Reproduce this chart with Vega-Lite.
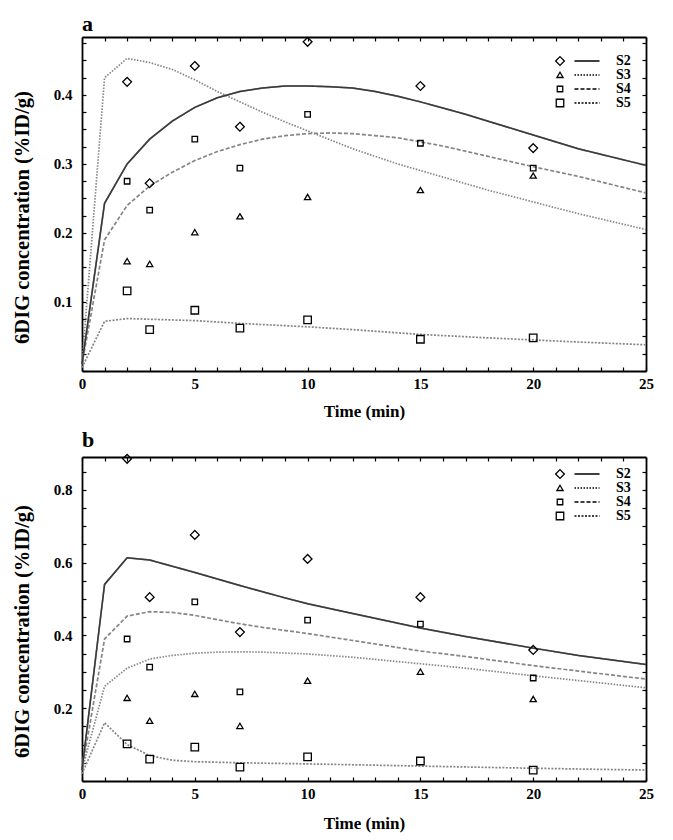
{
  "$schema": "https://vega.github.io/schema/vega-lite/v6.json",
  "padding": {"left": 12, "top": 12, "right": 20, "bottom": 5},
  "config": {
    "font": "Liberation Serif",
    "view": {"stroke": null},
    "concat": {"spacing": 9},
    "axis": {"tickSize": -4, "tickColor": "black", "tickWidth": 1.2, "domainColor": "black", "domainWidth": 1.8, "grid": false,
      "labelFont": "Liberation Serif", "labelFontWeight": "bold", "labelFontSize": 15, "labelColor": "black", "labelFlush": false, "labelOverlap": false,
      "titleFont": "Liberation Serif", "titleFontWeight": "bold", "titleColor": "black"}
  },
  "resolve": {"scale": {"shape": "independent", "strokeDash": "independent"}, "legend": {"shape": "independent", "strokeDash": "independent"}},
  "datasets": {
    "pa": [
      {"t": 2, "v": 0.419, "S": "S2"}, {"t": 3, "v": 0.272, "S": "S2"}, {"t": 5, "v": 0.442, "S": "S2"}, {"t": 7, "v": 0.354, "S": "S2"}, {"t": 10, "v": 0.477, "S": "S2"}, {"t": 15, "v": 0.413, "S": "S2"}, {"t": 20, "v": 0.323, "S": "S2"},
      {"t": 2, "v": 0.159, "S": "S3"}, {"t": 3, "v": 0.155, "S": "S3"}, {"t": 5, "v": 0.201, "S": "S3"}, {"t": 7, "v": 0.224, "S": "S3"}, {"t": 10, "v": 0.252, "S": "S3"}, {"t": 15, "v": 0.262, "S": "S3"}, {"t": 20, "v": 0.283, "S": "S3"},
      {"t": 2, "v": 0.275, "S": "S4"}, {"t": 3, "v": 0.233, "S": "S4"}, {"t": 5, "v": 0.336, "S": "S4"}, {"t": 7, "v": 0.294, "S": "S4"}, {"t": 10, "v": 0.372, "S": "S4"}, {"t": 15, "v": 0.330, "S": "S4"}, {"t": 20, "v": 0.294, "S": "S4"},
      {"t": 2, "v": 0.116, "S": "S5"}, {"t": 3, "v": 0.060, "S": "S5"}, {"t": 5, "v": 0.088, "S": "S5"}, {"t": 7, "v": 0.062, "S": "S5"}, {"t": 10, "v": 0.074, "S": "S5"}, {"t": 15, "v": 0.046, "S": "S5"}, {"t": 20, "v": 0.048, "S": "S5"}
    ],
    "ca": [
      {"t": 0, "v": 0.01, "F": "S2"}, {"t": 1, "v": 0.243, "F": "S2"}, {"t": 2, "v": 0.30, "F": "S2"}, {"t": 3, "v": 0.336, "F": "S2"}, {"t": 4, "v": 0.362, "F": "S2"}, {"t": 5, "v": 0.382, "F": "S2"}, {"t": 6, "v": 0.396, "F": "S2"}, {"t": 7, "v": 0.405, "F": "S2"}, {"t": 8, "v": 0.41, "F": "S2"}, {"t": 9, "v": 0.413, "F": "S2"}, {"t": 10, "v": 0.413, "F": "S2"}, {"t": 11, "v": 0.412, "F": "S2"}, {"t": 12, "v": 0.41, "F": "S2"}, {"t": 13, "v": 0.405, "F": "S2"}, {"t": 14, "v": 0.398, "F": "S2"}, {"t": 15, "v": 0.39, "F": "S2"}, {"t": 16, "v": 0.381, "F": "S2"}, {"t": 17, "v": 0.372, "F": "S2"}, {"t": 18, "v": 0.362, "F": "S2"}, {"t": 20, "v": 0.342, "F": "S2"}, {"t": 22, "v": 0.322, "F": "S2"}, {"t": 25, "v": 0.298, "F": "S2"},
      {"t": 0, "v": 0.01, "F": "S3"}, {"t": 1, "v": 0.425, "F": "S3"}, {"t": 2, "v": 0.453, "F": "S3"}, {"t": 3, "v": 0.447, "F": "S3"}, {"t": 4, "v": 0.437, "F": "S3"}, {"t": 5, "v": 0.422, "F": "S3"}, {"t": 6, "v": 0.405, "F": "S3"}, {"t": 7, "v": 0.39, "F": "S3"}, {"t": 8, "v": 0.375, "F": "S3"}, {"t": 9, "v": 0.361, "F": "S3"}, {"t": 10, "v": 0.348, "F": "S3"}, {"t": 12, "v": 0.322, "F": "S3"}, {"t": 14, "v": 0.30, "F": "S3"}, {"t": 16, "v": 0.281, "F": "S3"}, {"t": 18, "v": 0.262, "F": "S3"}, {"t": 20, "v": 0.245, "F": "S3"}, {"t": 22, "v": 0.228, "F": "S3"}, {"t": 25, "v": 0.205, "F": "S3"},
      {"t": 0, "v": 0.01, "F": "S4"}, {"t": 1, "v": 0.19, "F": "S4"}, {"t": 2, "v": 0.24, "F": "S4"}, {"t": 3, "v": 0.268, "F": "S4"}, {"t": 4, "v": 0.288, "F": "S4"}, {"t": 5, "v": 0.305, "F": "S4"}, {"t": 6, "v": 0.318, "F": "S4"}, {"t": 7, "v": 0.328, "F": "S4"}, {"t": 8, "v": 0.336, "F": "S4"}, {"t": 9, "v": 0.341, "F": "S4"}, {"t": 10, "v": 0.344, "F": "S4"}, {"t": 11, "v": 0.345, "F": "S4"}, {"t": 12, "v": 0.344, "F": "S4"}, {"t": 14, "v": 0.338, "F": "S4"}, {"t": 16, "v": 0.326, "F": "S4"}, {"t": 18, "v": 0.311, "F": "S4"}, {"t": 20, "v": 0.296, "F": "S4"}, {"t": 22, "v": 0.282, "F": "S4"}, {"t": 25, "v": 0.258, "F": "S4"},
      {"t": 0, "v": 0.005, "F": "S5"}, {"t": 1, "v": 0.072, "F": "S5"}, {"t": 2, "v": 0.076, "F": "S5"}, {"t": 3, "v": 0.075, "F": "S5"}, {"t": 5, "v": 0.073, "F": "S5"}, {"t": 7, "v": 0.069, "F": "S5"}, {"t": 10, "v": 0.064, "F": "S5"}, {"t": 12, "v": 0.06, "F": "S5"}, {"t": 15, "v": 0.053, "F": "S5"}, {"t": 18, "v": 0.048, "F": "S5"}, {"t": 20, "v": 0.045, "F": "S5"}, {"t": 22, "v": 0.042, "F": "S5"}, {"t": 25, "v": 0.038, "F": "S5"}
    ],
    "pb": [
      {"t": 2, "v": 0.885, "S": "S2"}, {"t": 3, "v": 0.505, "S": "S2"}, {"t": 5, "v": 0.676, "S": "S2"}, {"t": 7, "v": 0.409, "S": "S2"}, {"t": 10, "v": 0.61, "S": "S2"}, {"t": 15, "v": 0.505, "S": "S2"}, {"t": 20, "v": 0.36, "S": "S2"},
      {"t": 2, "v": 0.228, "S": "S3"}, {"t": 3, "v": 0.165, "S": "S3"}, {"t": 5, "v": 0.239, "S": "S3"}, {"t": 7, "v": 0.151, "S": "S3"}, {"t": 10, "v": 0.275, "S": "S3"}, {"t": 15, "v": 0.30, "S": "S3"}, {"t": 20, "v": 0.225, "S": "S3"},
      {"t": 2, "v": 0.39, "S": "S4"}, {"t": 3, "v": 0.313, "S": "S4"}, {"t": 5, "v": 0.492, "S": "S4"}, {"t": 7, "v": 0.245, "S": "S4"}, {"t": 10, "v": 0.442, "S": "S4"}, {"t": 15, "v": 0.431, "S": "S4"}, {"t": 20, "v": 0.283, "S": "S4"},
      {"t": 2, "v": 0.102, "S": "S5"}, {"t": 3, "v": 0.06, "S": "S5"}, {"t": 5, "v": 0.093, "S": "S5"}, {"t": 7, "v": 0.038, "S": "S5"}, {"t": 10, "v": 0.066, "S": "S5"}, {"t": 15, "v": 0.055, "S": "S5"}, {"t": 20, "v": 0.03, "S": "S5"}
    ],
    "cb": [
      {"t": 0, "v": 0.03, "F": "S2"}, {"t": 1, "v": 0.54, "F": "S2"}, {"t": 2, "v": 0.613, "F": "S2"}, {"t": 3, "v": 0.607, "F": "S2"}, {"t": 4, "v": 0.59, "F": "S2"}, {"t": 5, "v": 0.573, "F": "S2"}, {"t": 6, "v": 0.555, "F": "S2"}, {"t": 7, "v": 0.537, "F": "S2"}, {"t": 8, "v": 0.52, "F": "S2"}, {"t": 9, "v": 0.503, "F": "S2"}, {"t": 10, "v": 0.487, "F": "S2"}, {"t": 12, "v": 0.46, "F": "S2"}, {"t": 15, "v": 0.42, "F": "S2"}, {"t": 17, "v": 0.397, "F": "S2"}, {"t": 20, "v": 0.365, "F": "S2"}, {"t": 22, "v": 0.345, "F": "S2"}, {"t": 25, "v": 0.32, "F": "S2"},
      {"t": 0, "v": 0.03, "F": "S3"}, {"t": 1, "v": 0.26, "F": "S3"}, {"t": 2, "v": 0.31, "F": "S3"}, {"t": 3, "v": 0.335, "F": "S3"}, {"t": 4, "v": 0.345, "F": "S3"}, {"t": 5, "v": 0.351, "F": "S3"}, {"t": 6, "v": 0.354, "F": "S3"}, {"t": 7, "v": 0.355, "F": "S3"}, {"t": 8, "v": 0.354, "F": "S3"}, {"t": 10, "v": 0.349, "F": "S3"}, {"t": 12, "v": 0.34, "F": "S3"}, {"t": 15, "v": 0.322, "F": "S3"}, {"t": 17, "v": 0.31, "F": "S3"}, {"t": 20, "v": 0.289, "F": "S3"}, {"t": 22, "v": 0.276, "F": "S3"}, {"t": 25, "v": 0.256, "F": "S3"},
      {"t": 0, "v": 0.03, "F": "S4"}, {"t": 1, "v": 0.39, "F": "S4"}, {"t": 2, "v": 0.453, "F": "S4"}, {"t": 3, "v": 0.465, "F": "S4"}, {"t": 4, "v": 0.463, "F": "S4"}, {"t": 5, "v": 0.455, "F": "S4"}, {"t": 6, "v": 0.443, "F": "S4"}, {"t": 7, "v": 0.432, "F": "S4"}, {"t": 8, "v": 0.422, "F": "S4"}, {"t": 10, "v": 0.405, "F": "S4"}, {"t": 12, "v": 0.386, "F": "S4"}, {"t": 15, "v": 0.357, "F": "S4"}, {"t": 17, "v": 0.342, "F": "S4"}, {"t": 20, "v": 0.317, "F": "S4"}, {"t": 22, "v": 0.302, "F": "S4"}, {"t": 25, "v": 0.28, "F": "S4"},
      {"t": 0, "v": 0.02, "F": "S5"}, {"t": 1, "v": 0.16, "F": "S5"}, {"t": 2, "v": 0.10, "F": "S5"}, {"t": 3, "v": 0.07, "F": "S5"}, {"t": 4, "v": 0.057, "F": "S5"}, {"t": 5, "v": 0.053, "F": "S5"}, {"t": 7, "v": 0.05, "F": "S5"}, {"t": 10, "v": 0.047, "F": "S5"}, {"t": 15, "v": 0.041, "F": "S5"}, {"t": 20, "v": 0.035, "F": "S5"}, {"t": 25, "v": 0.03, "F": "S5"}
    ]
  },
  "vconcat": [
    {
      "width": 564, "height": 334,
      "title": {"text": "a", "anchor": "start", "frame": "group", "fontSize": 22, "font": "Liberation Serif", "fontWeight": "bold", "offset": -1, "color": "black"},
      "resolve": {"axis": {"x": "independent", "y": "independent"}},
      "layer": [
        {
          "data": {"name": "ca"},
          "mark": {"type": "line", "strokeWidth": 1.7, "color": "#858585"},
          "encoding": {
            "x": {"field": "t", "type": "quantitative", "scale": {"domain": [0, 25], "nice": false},
              "axis": {"orient": "top", "values": [0,1,2,3,4,5,6,7,8,9,10,11,12,13,14,15,16,17,18,19,20,21,22,23,24,25], "labels": false, "title": null}},
            "y": {"field": "v", "type": "quantitative", "scale": {"domain": [0, 0.484], "nice": false},
              "axis": {"orient": "right", "values": [0,0.025,0.05,0.075,0.1,0.125,0.15,0.175,0.2,0.225,0.25,0.275,0.3,0.325,0.35,0.375,0.4,0.425,0.45,0.475], "labels": false, "title": null}},
            "strokeDash": {"field": "F", "type": "nominal", "scale": {"range": [[1,0],[1.5,1.5],[4,2],[2,1.5]]},
              "legend": {"orient": "none", "legendX": 498, "legendY": 17, "title": null, "symbolType": "M-2.5,0H2.5", "symbolSize": 100, "symbolStrokeWidth": 1.4, "symbolStrokeColor": "black", "labelFontSize": 14, "labelFontWeight": "bold", "labelFont": "Liberation Serif", "labelColor": "black", "labelOffset": 22, "rowPadding": -1, "padding": 0}}
          }
        },
        {
          "data": {"name": "ca"},
          "transform": [{"filter": "datum.F === 'S2'"}],
          "mark": {"type": "line", "strokeWidth": 1.5, "color": "#3a3a3a"},
          "encoding": {
            "x": {"field": "t", "type": "quantitative", "axis": null},
            "y": {"field": "v", "type": "quantitative", "axis": null}
          }
        },
        {
          "data": {"name": "pa"},
          "mark": {"type": "point", "filled": false, "strokeWidth": 1.3, "color": "black", "opacity": 1, "size": 100},
          "encoding": {
            "x": {"field": "t", "type": "quantitative", "scale": {"domain": [0, 25], "nice": false},
              "axis": {"orient": "bottom", "values": [0,1,2,3,4,5,6,7,8,9,10,11,12,13,14,15,16,17,18,19,20,21,22,23,24,25], "labelExpr": "datum.value % 5 === 0 ? datum.label : ''", "labelPadding": 9, "title": "Time (min)", "titleFontSize": 17, "titlePadding": 12}},
            "y": {"field": "v", "type": "quantitative", "scale": {"domain": [0, 0.484], "nice": false},
              "axis": {"orient": "left", "values": [0,0.025,0.05,0.075,0.1,0.125,0.15,0.175,0.2,0.225,0.25,0.275,0.3,0.325,0.35,0.375,0.4,0.425,0.45,0.475], "labelExpr": "datum.value > 0.01 && abs(datum.value*10 - round(datum.value*10)) < 0.001 ? format(datum.value, '.1f') : ''", "labelPadding": 14, "title": "6DIG concentration (%ID/g)", "titleFontSize": 20.5, "titlePadding": 21, "titleY": 180}},
            "shape": {"field": "S", "type": "nominal", "scale": {"range": ["M0,-0.88L0.88,0L0,0.88L-0.88,0Z", "M0,-0.55L0.62,0.5L-0.62,0.5Z", "M-0.55,-0.55H0.55V0.55H-0.55Z", "M-0.75,-0.75H0.75V0.75H-0.75Z"]},
              "legend": {"orient": "none", "legendX": 471, "legendY": 17, "title": null, "labelOpacity": 0, "labelFontSize": 14, "rowPadding": -1, "padding": 0, "symbolSize": 100, "symbolStrokeColor": "black", "symbolStrokeWidth": 1.3}}
          }
        }
      ]
    },
    {
      "width": 564, "height": 324,
      "title": {"text": "b", "anchor": "start", "frame": "group", "fontSize": 22, "font": "Liberation Serif", "fontWeight": "bold", "offset": 0, "color": "black"},
      "resolve": {"axis": {"x": "independent", "y": "independent"}},
      "layer": [
        {
          "data": {"name": "cb"},
          "mark": {"type": "line", "strokeWidth": 1.7, "color": "#858585"},
          "encoding": {
            "x": {"field": "t", "type": "quantitative", "scale": {"domain": [0, 25], "nice": false},
              "axis": {"orient": "top", "values": [0,1,2,3,4,5,6,7,8,9,10,11,12,13,14,15,16,17,18,19,20,21,22,23,24,25], "labels": false, "title": null}},
            "y": {"field": "v", "type": "quantitative", "scale": {"domain": [0, 0.89], "nice": false},
              "axis": {"orient": "right", "values": [0,0.05,0.1,0.15,0.2,0.25,0.3,0.35,0.4,0.45,0.5,0.55,0.6,0.65,0.7,0.75,0.8,0.85], "labels": false, "title": null}},
            "strokeDash": {"field": "F", "type": "nominal", "scale": {"range": [[1,0],[1.5,1.5],[4,2],[2,1.5]]},
              "legend": {"orient": "none", "legendX": 498, "legendY": 10, "title": null, "symbolType": "M-2.5,0H2.5", "symbolSize": 100, "symbolStrokeWidth": 1.4, "symbolStrokeColor": "black", "labelFontSize": 14, "labelFontWeight": "bold", "labelFont": "Liberation Serif", "labelColor": "black", "labelOffset": 22, "rowPadding": -1, "padding": 0}}
          }
        },
        {
          "data": {"name": "cb"},
          "transform": [{"filter": "datum.F === 'S2'"}],
          "mark": {"type": "line", "strokeWidth": 1.5, "color": "#3a3a3a"},
          "encoding": {
            "x": {"field": "t", "type": "quantitative", "axis": null},
            "y": {"field": "v", "type": "quantitative", "axis": null}
          }
        },
        {
          "data": {"name": "pb"},
          "mark": {"type": "point", "filled": false, "strokeWidth": 1.3, "color": "black", "opacity": 1, "size": 100},
          "encoding": {
            "x": {"field": "t", "type": "quantitative", "scale": {"domain": [0, 25], "nice": false},
              "axis": {"orient": "bottom", "values": [0,1,2,3,4,5,6,7,8,9,10,11,12,13,14,15,16,17,18,19,20,21,22,23,24,25], "labelExpr": "datum.value % 5 === 0 ? datum.label : ''", "labelPadding": 9, "title": "Time (min)", "titleFontSize": 17, "titlePadding": 14}},
            "y": {"field": "v", "type": "quantitative", "scale": {"domain": [0, 0.89], "nice": false},
              "axis": {"orient": "left", "values": [0,0.05,0.1,0.15,0.2,0.25,0.3,0.35,0.4,0.45,0.5,0.55,0.6,0.65,0.7,0.75,0.8,0.85], "labelExpr": "datum.value > 0.01 && abs(datum.value*5 - round(datum.value*5)) < 0.001 ? format(datum.value, '.1f') : ''", "labelPadding": 14, "title": "6DIG concentration (%ID/g)", "titleFontSize": 20.5, "titlePadding": 21, "titleY": 174}},
            "shape": {"field": "S", "type": "nominal", "scale": {"range": ["M0,-0.88L0.88,0L0,0.88L-0.88,0Z", "M0,-0.55L0.62,0.5L-0.62,0.5Z", "M-0.55,-0.55H0.55V0.55H-0.55Z", "M-0.75,-0.75H0.75V0.75H-0.75Z"]},
              "legend": {"orient": "none", "legendX": 471, "legendY": 10, "title": null, "labelOpacity": 0, "labelFontSize": 14, "rowPadding": -1, "padding": 0, "symbolSize": 100, "symbolStrokeColor": "black", "symbolStrokeWidth": 1.3}}
          }
        }
      ]
    }
  ]
}
